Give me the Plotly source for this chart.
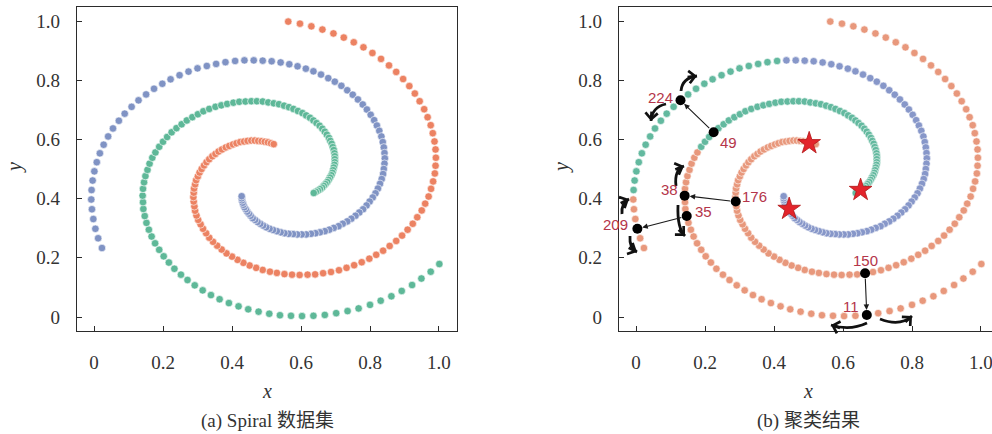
import math
import plotly.graph_objects as go

# ---------------- data ----------------
# spiral arm 1 (green in (a)), from outer end inward
GREEN_X = [1.001, 0.976, 0.949, 0.922, 0.892, 0.862, 0.831, 0.8, 0.767, 0.735,
           0.702, 0.669, 0.636, 0.603, 0.571, 0.539, 0.508, 0.477, 0.447, 0.419,
           0.391, 0.364, 0.339, 0.315, 0.292, 0.271, 0.252, 0.233, 0.217, 0.202,
           0.189, 0.177, 0.167, 0.159, 0.152, 0.147, 0.143, 0.142, 0.141, 0.142,
           0.145, 0.149, 0.155, 0.161, 0.169, 0.178, 0.189, 0.2, 0.212, 0.225,
           0.239, 0.254, 0.269, 0.285, 0.301, 0.317, 0.334, 0.352, 0.369, 0.386,
           0.404, 0.421, 0.439, 0.456, 0.472, 0.489, 0.505, 0.521, 0.536, 0.551,
           0.565, 0.578, 0.591, 0.604, 0.615, 0.626, 0.636, 0.645, 0.654, 0.662,
           0.669, 0.675, 0.681, 0.685, 0.689, 0.692, 0.695, 0.697, 0.698, 0.698,
           0.698, 0.697, 0.695, 0.693, 0.691, 0.688, 0.684, 0.68, 0.676, 0.671,
           0.666, 0.661, 0.655, 0.649, 0.643, 0.637]
GREEN_Y = [0.179, 0.153, 0.13, 0.108, 0.088, 0.07, 0.055, 0.041, 0.029, 0.02,
           0.013, 0.007, 0.004, 0.003, 0.004, 0.006, 0.011, 0.018, 0.026, 0.036,
           0.047, 0.06, 0.074, 0.09, 0.107, 0.125, 0.143, 0.163, 0.184, 0.205,
           0.227, 0.249, 0.272, 0.295, 0.318, 0.341, 0.365, 0.388, 0.41, 0.433,
           0.455, 0.476, 0.497, 0.518, 0.538, 0.556, 0.575, 0.592, 0.608, 0.624,
           0.638, 0.651, 0.664, 0.675, 0.685, 0.695, 0.703, 0.71, 0.715, 0.72,
           0.724, 0.727, 0.728, 0.729, 0.729, 0.728, 0.725, 0.722, 0.719, 0.714,
           0.709, 0.703, 0.696, 0.689, 0.681, 0.673, 0.664, 0.655, 0.646, 0.636,
           0.626, 0.616, 0.605, 0.595, 0.585, 0.574, 0.564, 0.553, 0.543, 0.533,
           0.523, 0.514, 0.505, 0.496, 0.487, 0.479, 0.471, 0.463, 0.456, 0.449,
           0.443, 0.437, 0.432, 0.427, 0.423, 0.419]
# spiral arm 2 (orange in (a))
ORANGE_X = [0.563, 0.597, 0.63, 0.662, 0.694, 0.724, 0.753, 0.781, 0.807, 0.832,
            0.855, 0.876, 0.896, 0.914, 0.93, 0.944, 0.957, 0.967, 0.976, 0.982,
            0.987, 0.99, 0.991, 0.99, 0.988, 0.983, 0.977, 0.97, 0.96, 0.95,
            0.937, 0.924, 0.909, 0.893, 0.876, 0.857, 0.838, 0.818, 0.798, 0.776,
            0.754, 0.732, 0.71, 0.687, 0.664, 0.641, 0.619, 0.596, 0.574, 0.552,
            0.53, 0.51, 0.489, 0.47, 0.451, 0.433, 0.416, 0.4, 0.384, 0.37,
            0.357, 0.345, 0.334, 0.325, 0.316, 0.309, 0.302, 0.297, 0.293, 0.291,
            0.289, 0.288, 0.289, 0.29, 0.293, 0.296, 0.301, 0.306, 0.312, 0.319,
            0.326, 0.334, 0.343, 0.352, 0.361, 0.371, 0.382, 0.392, 0.403, 0.413,
            0.424, 0.435, 0.445, 0.456, 0.466, 0.476, 0.486, 0.495, 0.504, 0.513,
            0.521]
ORANGE_Y = [0.998, 0.991, 0.982, 0.971, 0.958, 0.944, 0.928, 0.911, 0.892, 0.872,
            0.85, 0.828, 0.804, 0.78, 0.755, 0.729, 0.702, 0.675, 0.648, 0.621,
            0.593, 0.566, 0.538, 0.511, 0.485, 0.458, 0.433, 0.407, 0.383, 0.36,
            0.337, 0.315, 0.295, 0.275, 0.257, 0.24, 0.224, 0.21, 0.197, 0.185,
            0.175, 0.166, 0.158, 0.152, 0.148, 0.144, 0.143, 0.142, 0.143, 0.145,
            0.149, 0.153, 0.159, 0.166, 0.174, 0.183, 0.193, 0.204, 0.215, 0.228,
            0.241, 0.254, 0.268, 0.283, 0.298, 0.313, 0.328, 0.343, 0.359, 0.374,
            0.39, 0.405, 0.42, 0.434, 0.448, 0.462, 0.475, 0.488, 0.5, 0.512,
            0.523, 0.533, 0.543, 0.551, 0.559, 0.566, 0.573, 0.578, 0.583, 0.587,
            0.591, 0.593, 0.595, 0.596, 0.596, 0.595, 0.594, 0.592, 0.59, 0.587,
            0.584]
# spiral arm 3 (blue in (a))
BLUE_X = [0.023, 0.012, 0.004, -0.002, -0.006, -0.008, -0.007, -0.004, 0.001, 0.008,
          0.017, 0.028, 0.041, 0.055, 0.072, 0.089, 0.109, 0.129, 0.151, 0.174,
          0.198, 0.222, 0.248, 0.274, 0.3, 0.327, 0.354, 0.381, 0.409, 0.436,
          0.463, 0.489, 0.515, 0.541, 0.566, 0.59, 0.614, 0.636, 0.658, 0.679,
          0.698, 0.717, 0.734, 0.75, 0.765, 0.779, 0.791, 0.802, 0.812, 0.82,
          0.827, 0.833, 0.837, 0.84, 0.842, 0.843, 0.842, 0.84, 0.838, 0.834,
          0.829, 0.823, 0.816, 0.808, 0.799, 0.79, 0.78, 0.769, 0.758, 0.746,
          0.734, 0.721, 0.709, 0.695, 0.682, 0.669, 0.655, 0.642, 0.629, 0.615,
          0.602, 0.589, 0.577, 0.564, 0.552, 0.541, 0.53, 0.519, 0.509, 0.499,
          0.49, 0.482, 0.474, 0.467, 0.46, 0.454, 0.449, 0.444, 0.44, 0.436,
          0.433, 0.431, 0.429, 0.428, 0.428]
BLUE_Y = [0.233, 0.266, 0.298, 0.331, 0.364, 0.397, 0.429, 0.461, 0.492, 0.523,
          0.553, 0.582, 0.61, 0.637, 0.663, 0.687, 0.71, 0.732, 0.752, 0.771,
          0.788, 0.803, 0.817, 0.829, 0.84, 0.848, 0.855, 0.861, 0.865, 0.867,
          0.867, 0.866, 0.864, 0.86, 0.854, 0.847, 0.839, 0.83, 0.819, 0.807,
          0.795, 0.781, 0.766, 0.751, 0.735, 0.718, 0.701, 0.683, 0.665, 0.647,
          0.629, 0.61, 0.591, 0.573, 0.554, 0.536, 0.518, 0.5, 0.483, 0.466,
          0.45, 0.434, 0.418, 0.404, 0.39, 0.377, 0.364, 0.353, 0.342, 0.332,
          0.323, 0.315, 0.307, 0.301, 0.295, 0.29, 0.286, 0.283, 0.281, 0.279,
          0.279, 0.279, 0.28, 0.281, 0.283, 0.286, 0.29, 0.294, 0.298, 0.303,
          0.309, 0.315, 0.321, 0.328, 0.334, 0.342, 0.349, 0.356, 0.364, 0.371,
          0.379, 0.386, 0.394, 0.401, 0.408]

# clustering result in (b): 0 = orange cluster, 1 = blue cluster, 2 = green cluster
LABEL_GREEN_ARM = [0] * 46 + [2] * 60
LABEL_ORANGE_ARM = [0] * 101
LABEL_BLUE_ARM = [0] * 6 + [2] * 23 + [1] * 76
# cluster centres (red stars)
CENTER_X = [0.502, 0.651, 0.444]
CENTER_Y = [0.587, 0.429, 0.365]
# annotated sample indices and the links between them
MARKED = [224, 49, 38, 176, 35, 209, 150, 11]
LINKS = [(49, 224), (176, 38), (35, 209), (150, 11)]
TICKS = [0, 0.2, 0.4, 0.6, 0.8, 1.0]
TICK_TEXT = ['0', '0.2', '0.4', '0.6', '0.8', '1.0']

ALL_X = GREEN_X + ORANGE_X + BLUE_X
ALL_Y = GREEN_Y + ORANGE_Y + BLUE_Y
LABEL_B = LABEL_GREEN_ARM + LABEL_ORANGE_ARM + LABEL_BLUE_ARM

# ---------------- styles ----------------
C_OR, C_BL, C_GR = '#EC8262', '#8093C4', '#5EB898'
CB = {0: '#E8987C', 1: '#8797C9', 2: '#63B99F'}
W, H = 992, 434
serif = 'Liberation Serif, Times New Roman, serif'

fig = go.Figure()
mk = dict(size=7.5, line=dict(color='white', width=0.6))
for xs, ys, c in [(GREEN_X, GREEN_Y, C_GR), (ORANGE_X, ORANGE_Y, C_OR), (BLUE_X, BLUE_Y, C_BL)]:
    fig.add_trace(go.Scatter(x=xs, y=ys, mode='markers', marker=dict(color=c, **mk),
                             xaxis='x', yaxis='y', showlegend=False, hoverinfo='skip'))
for lab in (0, 2, 1):
    idx = [i for i, l in enumerate(LABEL_B) if l == lab]
    fig.add_trace(go.Scatter(x=[ALL_X[i] for i in idx], y=[ALL_Y[i] for i in idx], mode='markers',
                             marker=dict(color=CB[lab], **mk), xaxis='x2', yaxis='y2',
                             showlegend=False, hoverinfo='skip'))
fig.add_trace(go.Scatter(x=CENTER_X, y=CENTER_Y, mode='markers',
                         marker=dict(symbol='star', size=17, color='#E3242B',
                                     line=dict(color='#B01818', width=0.8)),
                         xaxis='x2', yaxis='y2', showlegend=False, hoverinfo='skip'))
fig.add_trace(go.Scatter(x=[ALL_X[i] for i in MARKED], y=[ALL_Y[i] for i in MARKED], mode='markers',
                         marker=dict(size=10, color='black'), xaxis='x2', yaxis='y2',
                         showlegend=False, hoverinfo='skip'))

ax_common = dict(showgrid=False, zeroline=False, showline=True, linecolor='#2b2b2b', linewidth=1.3,
                 ticks='inside', ticklen=5, tickwidth=1.2, tickcolor='#2b2b2b',
                 tickvals=TICKS, ticktext=TICK_TEXT, ticklabeloverflow='allow',
                 tickfont=dict(family=serif, size=19, color='#333333'))
ydom = [(H - 331) / H, (H - 7) / H]
fig.update_layout(
    width=W, height=H, margin=dict(l=0, r=0, t=0, b=0),
    paper_bgcolor='white', plot_bgcolor='white',
    xaxis=dict(domain=[77 / W, 457 / W], range=[-0.0493, 1.0522], mirror=True, anchor='y',
               ticklabelstandoff=14, **ax_common),
    yaxis=dict(domain=ydom, range=[-0.0473, 1.0473], mirror=True, anchor='x',
               ticklabelstandoff=12, **ax_common),
    xaxis2=dict(domain=[619 / W, 1.0], range=[-0.0493, 1.0319], mirror=True, anchor='y2',
                ticklabelstandoff=14, **ax_common),
    yaxis2=dict(domain=ydom, range=[-0.0473, 1.0473], mirror=False, anchor='x2',
                ticklabelstandoff=12, **ax_common),
)

ann = []
def txt(x, y, s, size=19, angle=0):
    ann.append(dict(x=x / W, y=1 - y / H, xref='paper', yref='paper', text=s, showarrow=False,
                    textangle=angle,
                    font=dict(family=serif + ', Noto Sans CJK SC', size=size, color='#333333'),
                    xanchor='center', yanchor='middle'))
txt(267, 391, '<i>x</i>', 20)
txt(808, 391, '<i>x</i>', 20)
txt(14, 168, '<i>y</i>', 20, -90)
txt(561, 168, '<i>y</i>', 20, -90)
txt(267, 421, '(a) Spiral 数据集', 19)
txt(808, 421, '(b) 聚类结果', 19)

LAB_COL = '#B4354A'
lab_pos = {224: (-6, 3, 'right'), 49: (4, -10, 'left'), 38: (-5, 6, 'right'), 176: (4, 5, 'left'),
           35: (6, 5, 'left'), 209: (-7, 4, 'right'), 150: (0, 13, 'center'), 11: (-6, 8, 'right')}
for i, (dx, dy, xa) in lab_pos.items():
    ann.append(dict(x=ALL_X[i], y=ALL_Y[i], xref='x2', yref='y2', text=str(i), showarrow=False,
                    xshift=dx, yshift=dy, xanchor=xa, yanchor='middle',
                    font=dict(family='Liberation Sans, Arial', size=15, color=LAB_COL)))
for s, e in LINKS:
    ann.append(dict(x=ALL_X[e], y=ALL_Y[e], ax=ALL_X[s], ay=ALL_Y[s], xref='x2', yref='y2',
                    axref='x2', ayref='y2', text='', showarrow=True, arrowhead=2, arrowsize=1,
                    arrowwidth=1.1, arrowcolor='#1a1a1a', standoff=5, startstandoff=4))

# decorative curved arrows (pixel positions inside panel b)
def px(X, Y):
    return (X - 636) / 345, (317 - Y) / 296
CURVES = [((681, 91), (682, 78), (697, 76)), ((666, 104), (652, 107), (651, 121)),
          ((676, 186), (674, 170), (684, 166)), ((678, 205), (677, 228), (685, 236)),
          ((622, 214), (621, 203), (629, 199)), ((630, 236), (629, 248), (637, 252)),
          ((867, 323), (850, 331), (831, 325)), ((880, 319), (900, 327), (912, 316))]
shapes = []
for S, Cc, E in CURVES:
    s, c, e = px(*S), px(*Cc), px(*E)
    shapes.append(dict(type='path', xref='x2', yref='y2',
                       path=f'M{s[0]},{s[1]} Q{c[0]},{c[1]} {e[0]},{e[1]}',
                       line=dict(color='#111111', width=2.8)))
    dxp, dyp = E[0] - Cc[0], E[1] - Cc[1]
    L = math.hypot(dxp, dyp)
    ann.append(dict(x=e[0], y=e[1], xref='x2', yref='y2', ax=-dxp / L * 11, ay=-dyp / L * 11,
                    text='', showarrow=True, arrowhead=4, arrowsize=0.85, arrowwidth=2.8,
                    arrowcolor='#111111'))
fig.update_layout(annotations=ann, shapes=shapes)
fig.write_html('out.html')
